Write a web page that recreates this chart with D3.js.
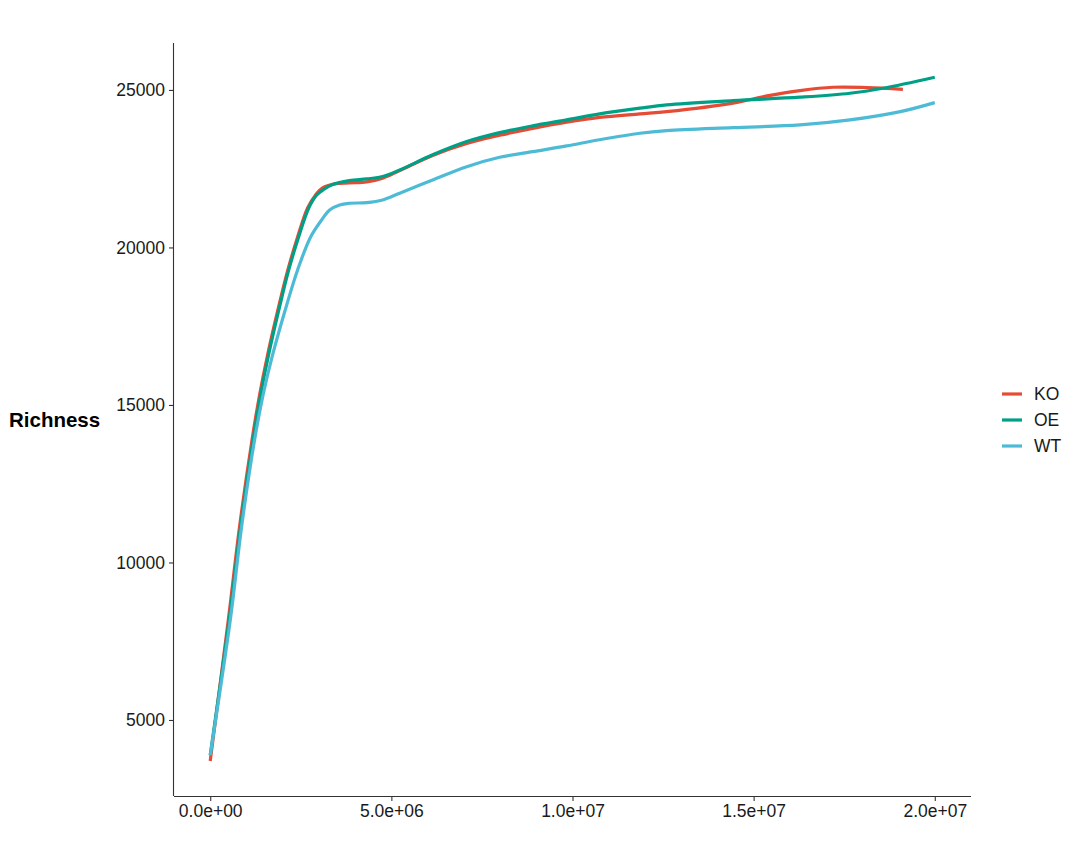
<!DOCTYPE html>
<html>
<head>
<meta charset="utf-8">
<script src="https://cdn.jsdelivr.net/npm/d3@7"></script>
<style>
  body { margin: 0; background: #fff; }
  svg { display: block; font-family: "Liberation Sans", Arial, sans-serif; }
</style>
</head>
<body>
<svg id="chart" width="1080" height="864"></svg>
<script>
const groups = ["KO", "OE", "WT"];
const colors = ["#E64B35", "#00A087", "#4DBBD5"];

const koDepth = [0, 0.506e6, 0.809e6, 1.141e6, 1.362e6, 1.583e6, 1.914e6, 2.135e6, 2.412e6, 2.688e6, 2.909e6, 3.102e6, 3.434e6, 3.848e6, 4.32e6, 4.76e6, 5.23e6, 6.14e6, 7.08e6, 7.99e6, 8.9e6, 9.84e6, 10.75e6, 11.86e6, 12.6e6, 14.43e6, 15.37e6, 16.28e6, 17.19e6, 18.13e6, 19.12e6];
const koRich = [3700, 8238, 11127, 13794, 15317, 16587, 18238, 19254, 20333, 21254, 21667, 21889, 22016, 22048, 22080, 22200, 22440, 22920, 23300, 23560, 23780, 23980, 24130, 24240, 24310, 24580, 24810, 24980, 25085, 25075, 25020];

const oeDepth = [0, 0.53e6, 0.837e6, 1.17e6, 1.39e6, 1.61e6, 1.94e6, 2.16e6, 2.44e6, 2.72e6, 2.94e6, 3.13e6, 3.38e6, 3.84e6, 4.32e6, 4.76e6, 5.23e6, 6.14e6, 7.08e6, 7.99e6, 8.9e6, 9.84e6, 10.75e6, 11.86e6, 12.6e6, 14.43e6, 16.28e6, 17.66e6, 18.57e6, 20.0e6];
const oeRich = [3880, 8238, 11127, 13794, 15317, 16587, 18238, 19254, 20333, 21254, 21667, 21840, 22000, 22121, 22175, 22250, 22460, 22940, 23360, 23645, 23860, 24050, 24240, 24420, 24524, 24660, 24770, 24895, 25054, 25403];

const wtDepth = [0, 0.561e6, 0.865e6, 1.21e6, 1.459e6, 1.721e6, 2.127e6, 2.412e6, 2.771e6, 3.075e6, 3.296e6, 3.572e6, 3.848e6, 4.32e6, 4.76e6, 5.23e6, 6.14e6, 7.08e6, 7.99e6, 8.9e6, 9.84e6, 10.75e6, 11.86e6, 12.6e6, 14.43e6, 16.28e6, 17.66e6, 19.05e6, 20.0e6];
const wtRich = [3880, 8238, 11127, 13794, 15317, 16587, 18238, 19286, 20333, 20873, 21190, 21349, 21403, 21422, 21508, 21721, 22143, 22565, 22863, 23041, 23222, 23420, 23625, 23708, 23803, 23889, 24048, 24311, 24597];

const xTicks = [0, 5e6, 1e7, 1.5e7, 2e7];
const xTickLabels = ["0.0e+00", "5.0e+06", "1.0e+07", "1.5e+07", "2.0e+07"];
const yTicks = [5000, 10000, 15000, 20000, 25000];
const yTickLabels = ["5000", "10000", "15000", "20000", "25000"];
const yTitle = "Richness";

const series = [
  { name: groups[0], color: colors[0], pts: koDepth.map((d, i) => [d, koRich[i]]) },
  { name: groups[1], color: colors[1], pts: oeDepth.map((d, i) => [d, oeRich[i]]) },
  { name: groups[2], color: colors[2], pts: wtDepth.map((d, i) => [d, wtRich[i]]) }
];

const svg = d3.select("#chart");
const mLeft = 174, mRight = 971, mTop = 43, mBottom = 796;

const x = d3.scaleLinear().domain([-1e6, 2.1e7]).range([mLeft, mRight]);
const y = d3.scaleLinear().domain([2587, 26490]).range([mBottom, mTop]);

const line = d3.line().x(d => x(d[0])).y(d => y(d[1])).curve(d3.curveCatmullRom.alpha(0.5));

const plot = svg.append("g");
series.forEach(s => {
  plot.append("path")
    .datum(s.pts)
    .attr("fill", "none")
    .attr("stroke", s.color)
    .attr("stroke-width", 3.2)
    .attr("stroke-linejoin", "round")
    .attr("d", line);
});

const xAxis = d3.axisBottom(x).tickValues(xTicks).tickFormat((d, i) => xTickLabels[i]).tickSize(5).tickPadding(4).tickSizeOuter(0);
const yAxis = d3.axisLeft(y).tickValues(yTicks).tickFormat((d, i) => yTickLabels[i]).tickSize(5).tickPadding(4).tickSizeOuter(0);

const gx = svg.append("g").attr("transform", `translate(0,${mBottom})`).call(xAxis);
const gy = svg.append("g").attr("transform", `translate(${mLeft},0)`).call(yAxis);

[gx, gy].forEach(g => {
  g.select(".domain").attr("stroke", "#333").attr("stroke-width", 1.1);
  g.selectAll(".tick line").attr("stroke", "#333").attr("stroke-width", 1.1);
  g.selectAll(".tick text").attr("fill", "#1a1a1a").style("font-size", "17.5px").style("font-family", "Liberation Sans, Arial, sans-serif");
});
gx.select(".domain").attr("d", `M${mLeft},0.5H${mRight}`);
gy.select(".domain").attr("d", `M-0.5,${mBottom}V${mTop}`);

svg.append("text")
  .attr("x", 9).attr("y", 427)
  .attr("font-weight", "bold")
  .style("font-size", "20.5px")
  .attr("fill", "#000")
  .text(yTitle);

const legend = svg.append("g");
series.forEach((s, i) => {
  const ly = 394 + i * 26;
  legend.append("line").attr("x1", 1002).attr("x2", 1022).attr("y1", ly).attr("y2", ly)
    .attr("stroke", s.color).attr("stroke-width", 3.2);
  legend.append("text").attr("x", 1034).attr("y", ly + 6.3)
    .style("font-size", "17.5px").attr("fill", "#1a1a1a").text(s.name);
});
</script>
</body>
</html>
